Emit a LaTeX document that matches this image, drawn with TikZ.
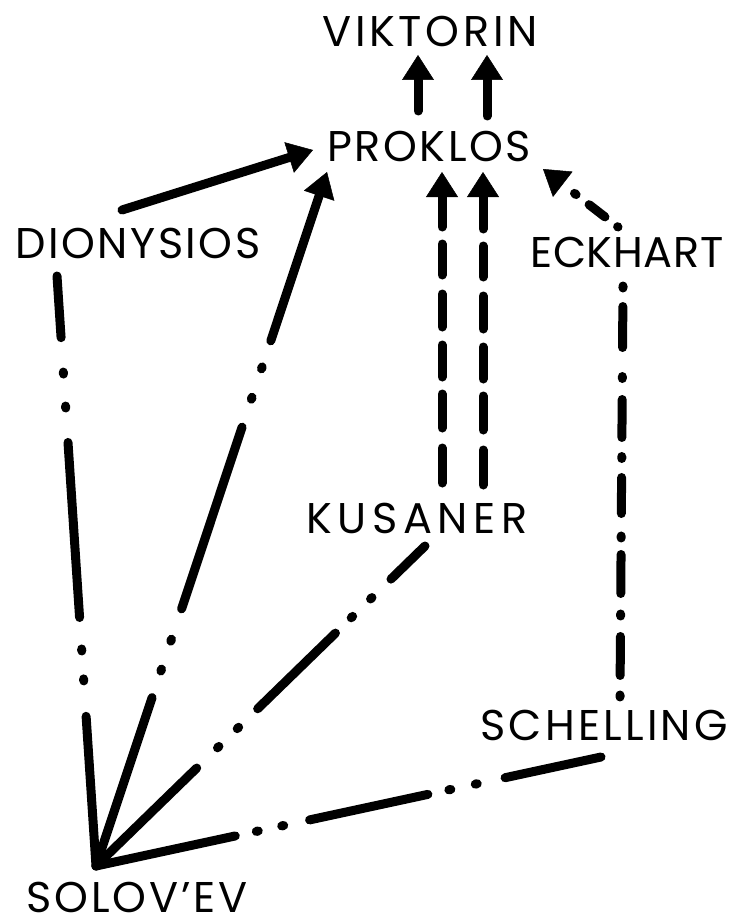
\documentclass[tikz,border=0pt]{standalone}
\usepackage{fontspec}
\setmainfont{Poppins}
\usetikzlibrary{arrows.meta}
\begin{document}
\begin{tikzpicture}[x=1pt,y=-1pt,line width=9pt,line cap=round,
  lbl/.style={inner sep=0pt,anchor=base,font=\fontsize{43}{43}\selectfont},
  ls/.style={font=\fontsize{43}{43}\selectfont\addfontfeature{LetterSpace=#1}},
  tip/.style={-{Triangle[width=32pt,length=25pt,line width=0.5pt]}}]
\useasboundingbox (0,0) rectangle (734,923);
% labels
\node[lbl,ls=8.5] (vik) at (430,47) {VIKTORIN};
\node[lbl,ls=6] (pro) at (429,161) {PROKLOS};
\node[lbl,ls=5.8] (dio) at (138,258) {DIONYSIOS};
\node[lbl,ls=1.6] (eck) at (627,267) {ECKHART};
\node[lbl,ls=13] (kus) at (417,533) {KUSANER};
\node[lbl,ls=7.5] (sch) at (604,740) {SCHELLING};
\node[lbl,ls=6.4] (sol) at (137,912) {SOLOV’EV};
% connector ends
\coordinate (solA) at (96,866);
\coordinate (vikL) at (418,55);  \coordinate (proVL) at (418,111);
\coordinate (vikR) at (487,55);  \coordinate (proVR) at (487,116);
\coordinate (dioP) at (122,210); \coordinate (proD) at (313,150);
\coordinate (proS) at (327,172);
\coordinate (dioS) at (57,276);
\coordinate (kusS) at (425,546);
\coordinate (schS) at (601,757);
\coordinate (kusL) at (442,483); \coordinate (proKL) at (442,172);
\coordinate (kusR) at (483,485); \coordinate (proKR) at (483,172);
\coordinate (eckP) at (618,227); \coordinate (proE) at (543,169);
\coordinate (eckS) at (623,286); \coordinate (schE) at (620,697);
% connectors
\draw[tip] (proVL) -- (vikL);
\draw[tip] (proVR) -- (vikR);
\draw[tip] (dioP) -- (proD);
\draw[tip,dash pattern=on 177.5pt off 28pt on 2pt off 29.5pt on 2pt off 32pt on 191.5pt off 29.5pt on 2pt off 30pt on 2pt off 27.5pt on 400pt off 1pt] (solA) -- (proS);
\draw[dash pattern=on 150pt off 35.5pt on 2pt off 28pt on 2pt off 31.5pt on 175.5pt off 34.5pt on 2pt off 32pt on 2pt off 34.5pt on 200pt off 1pt] (solA) -- (dioS);
\draw[dash pattern=on 140.5pt off 29pt on 2pt off 25.5pt on 2pt off 26.5pt on 108.5pt off 22pt on 2pt off 25pt on 2pt off 26.5pt on 200pt off 1pt] (solA) -- (kusS);
\draw[dash pattern=on 142.5pt off 21.5pt on 2pt off 24pt on 2pt off 26.5pt on 121pt off 21.5pt on 2pt off 25pt on 2pt off 28.5pt on 200pt off 1pt] (solA) -- (schS);
\draw[tip,dash pattern=on 35pt off 20pt on 34pt off 17pt on 32pt off 18pt on 33pt off 19pt on 31pt off 17pt on 100pt off 1pt] (kusL) -- (proKL);
\draw[tip,dash pattern=on 35pt off 20pt on 34pt off 17pt on 32pt off 18pt on 33pt off 19pt on 31pt off 17pt on 100pt off 1pt] (kusR) -- (proKR);
\draw[tip,dash pattern=on 0.5pt off 16pt on 20pt off 16.5pt on 2pt off 100pt] (eckP) -- (proE);
\draw[dash pattern=on 2pt off 18.5pt on 41pt off 29pt on 2pt off 21pt on 38pt off 19pt on 2pt off 19pt on 36pt off 22.5pt on 2pt off 16.5pt on 39pt off 20.5pt on 2pt off 20.5pt on 39pt off 19.5pt on 2pt off 50pt] (eckS) -- (schE);
\end{tikzpicture}
\end{document}
